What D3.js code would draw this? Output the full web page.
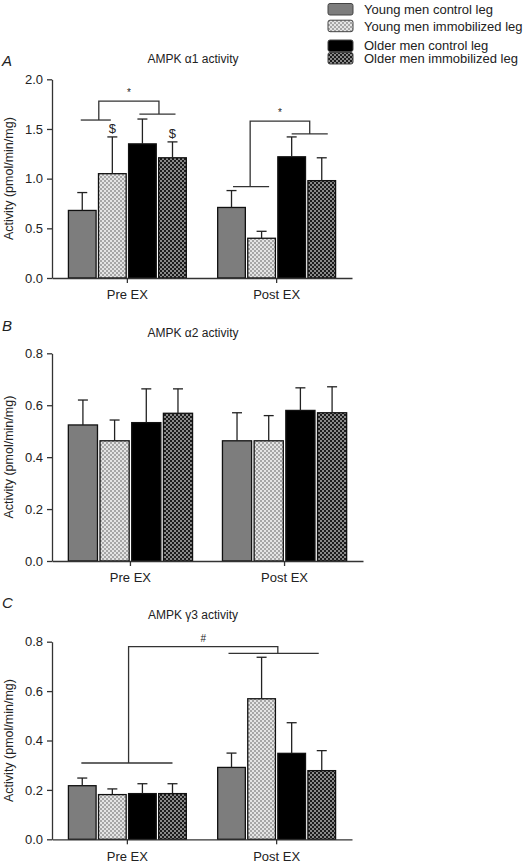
<!DOCTYPE html>
<html>
<head>
<meta charset="utf-8">
<script src="https://cdn.jsdelivr.net/npm/d3@7"></script>
<style>
  body { margin: 0; background: #fff; }
  svg { display: block; font-family: "Liberation Sans", Arial, sans-serif; }
</style>
</head>
<body>
<svg id="chart" width="525" height="863"></svg>
<script>
// ---------------- DATA ----------------
const categories = ["Pre EX", "Post EX"];
const seriesNames = ["Young men control leg", "Young men immobilized leg", "Older men control leg", "Older men immobilized leg"];

const alpha1Ticks = [0, 0.5, 1.0, 1.5, 2.0];
const alpha1Mean = [[0.68, 1.05, 1.35, 1.21], [0.71, 0.40, 1.22, 0.98]];
const alpha1Err  = [[0.18, 0.37, 0.25, 0.16], [0.17, 0.07, 0.20, 0.23]];

const alpha2Ticks = [0, 0.2, 0.4, 0.6, 0.8];
const alpha2Mean = [[0.524, 0.463, 0.533, 0.569], [0.463, 0.463, 0.580, 0.571]];
const alpha2Err  = [[0.096, 0.080, 0.130, 0.094], [0.108, 0.097, 0.087, 0.100]];

const gamma3Ticks = [0, 0.2, 0.4, 0.6, 0.8];
const gamma3Mean = [[0.217, 0.181, 0.185, 0.185], [0.291, 0.569, 0.348, 0.278]];
const gamma3Err  = [[0.031, 0.023, 0.040, 0.040], [0.058, 0.168, 0.124, 0.081]];

// significance annotations (positions in bar-index units within a category, values in data units)
const alpha1Lines = [
  {cat: "Pre EX", from: -0.05, to: 0.95, y: 1.59},
  {cat: "Pre EX", from: 1.9, to: 3.1, y: 1.65},
  {cat: "Post EX", from: 0.05, to: 1.25, y: 0.92},
  {cat: "Post EX", from: 2.0, to: 3.2, y: 1.45}
];
const alpha1Brackets = [
  {cat1: "Pre EX", pos1: 0.55, y1: 1.59, cat2: "Pre EX", pos2: 2.55, y2: 1.65, top: 1.78, label: "*"},
  {cat1: "Post EX", pos1: 0.62, y1: 0.92, cat2: "Post EX", pos2: 2.6, y2: 1.45, top: 1.58, label: "*"}
];
const alpha1Marks = [{cat: "Pre EX", bar: 1, label: "$"}, {cat: "Pre EX", bar: 3, label: "$"}];

const gamma3Lines = [
  {cat: "Pre EX", from: -0.03, to: 3.0, y: 0.309},
  {cat: "Post EX", from: -0.1, to: 2.9, y: 0.753}
];
const gamma3Brackets = [
  {cat1: "Pre EX", pos1: 1.54, y1: 0.309, cat2: "Post EX", pos2: 1.54, y2: 0.753, top: 0.78, label: "#"}
];

// ---------------- DRAW ----------------
const svg = d3.select("#chart");
const defs = svg.append("defs");

function checker(id, base, sq) {
  const p = defs.append("pattern").attr("id", id).attr("width", 4).attr("height", 4)
    .attr("patternUnits", "userSpaceOnUse");
  p.append("rect").attr("width", 4).attr("height", 4).attr("fill", base);
  p.append("rect").attr("width", 2).attr("height", 2).attr("fill", sq);
  p.append("rect").attr("x", 2).attr("y", 2).attr("width", 2).attr("height", 2).attr("fill", sq);
}
checker("patLight", "#e4e4e4", "#a6a6a6");
checker("patDark", "#1c1c1c", "#8a8a8a");

const fills = ["#7d7d7d", "url(#patLight)", "#000000", "url(#patDark)"];
const seriesIdx = d3.range(seriesNames.length);

// legend
const legend = svg.append("g");
const legendRows = [{y: 3.5, tb: 14.3}, {y: 20.2, tb: 31}, {y: 40, tb: 50}, {y: 52.5, tb: 63.3}];
seriesNames.forEach((name, i) => {
  legend.append("rect").attr("x", 328).attr("y", legendRows[i].y).attr("width", 25).attr("height", 11.5)
    .attr("rx", 2).attr("fill", fills[i]).attr("stroke", "#444").attr("stroke-width", 1);
  legend.append("text").attr("x", 364).attr("y", legendRows[i].tb).attr("font-size", 13)
    .attr("fill", "#222").text(name);
});

function panel(cfg) {
  const g = svg.append("g");
  const x = d3.scaleBand().domain(categories).range(cfg.xRange)
    .paddingInner(cfg.pIn).paddingOuter(cfg.pOut);
  const xi = d3.scaleBand().domain(seriesIdx).range([0, x.bandwidth()]).paddingInner(0.08).paddingOuter(0);
  const y = d3.scaleLinear().domain([0, d3.max(cfg.ticks)]).range([cfg.yBottom, cfg.yTop]);
  const bw = xi.bandwidth();
  const xAt = (cat, pos) => x(cat) + xi(0) + pos * xi.step() + bw / 2;

  // letter + title
  g.append("text").attr("x", 2).attr("y", cfg.letterY).attr("font-size", 15).attr("font-style", "italic")
    .attr("fill", "#222").text(cfg.letter);
  g.append("text").attr("x", 193).attr("y", cfg.titleY).attr("text-anchor", "middle").attr("font-size", 12)
    .attr("fill", "#222").text(cfg.title);

  // bars
  categories.forEach((cat, ci) => {
    const gc = g.append("g");
    gc.selectAll("rect").data(seriesIdx).join("rect")
      .attr("x", i => x(cat) + xi(i)).attr("width", bw)
      .attr("y", i => y(cfg.mean[ci][i])).attr("height", i => y(0) - y(cfg.mean[ci][i]))
      .attr("fill", i => fills[i]).attr("stroke", "#111").attr("stroke-width", 1.3);
    // error bars
    gc.selectAll("line.eb").data(seriesIdx).join("line").attr("class", "eb")
      .attr("x1", i => x(cat) + xi(i) + bw / 2).attr("x2", i => x(cat) + xi(i) + bw / 2)
      .attr("y1", i => y(cfg.mean[ci][i])).attr("y2", i => y(cfg.mean[ci][i] + cfg.err[ci][i]))
      .attr("stroke", "#222").attr("stroke-width", 1.3);
    gc.selectAll("line.cap").data(seriesIdx).join("line").attr("class", "cap")
      .attr("x1", i => x(cat) + xi(i) + bw / 2 - 5).attr("x2", i => x(cat) + xi(i) + bw / 2 + 5)
      .attr("y1", i => y(cfg.mean[ci][i] + cfg.err[ci][i])).attr("y2", i => y(cfg.mean[ci][i] + cfg.err[ci][i]))
      .attr("stroke", "#222").attr("stroke-width", 1.3);
  });

  // axes
  const yAxis = d3.axisLeft(y).tickValues(cfg.ticks).tickFormat(d3.format(".1f"))
    .tickSize(5).tickPadding(4).tickSizeOuter(0);
  const ya = g.append("g").attr("transform", `translate(${cfg.xRange[0]},0)`).call(yAxis);
  const xAxis = d3.axisBottom(x).tickSize(5).tickPadding(7).tickSizeOuter(0);
  const xa = g.append("g").attr("transform", `translate(0,${cfg.yBottom})`).call(xAxis);
  [ya, xa].forEach(a => {
    a.selectAll("path, line").attr("stroke", "#333").attr("stroke-width", 1.3);
    a.selectAll("text").attr("font-size", 13).attr("fill", "#222")
      .attr("font-family", "'Liberation Sans', Arial, sans-serif");
  });

  // y label
  g.append("text").attr("transform", `translate(13,${(cfg.yTop + cfg.yBottom) / 2}) rotate(-90)`)
    .attr("text-anchor", "middle").attr("font-size", 12.5).attr("fill", "#222")
    .text("Activity (pmol/min/mg)");

  // annotations
  const ann = g.append("g").attr("stroke", "#333").attr("stroke-width", 1.3).attr("fill", "none");
  (cfg.lines || []).forEach(l => {
    ann.append("line").attr("x1", xAt(l.cat, l.from)).attr("x2", xAt(l.cat, l.to))
      .attr("y1", y(l.y)).attr("y2", y(l.y));
  });
  (cfg.brackets || []).forEach(b => {
    const x1 = xAt(b.cat1, b.pos1), x2 = xAt(b.cat2, b.pos2);
    ann.append("path").attr("d", `M${x1},${y(b.y1)}V${y(b.top)}H${x2}V${y(b.y2)}`);
    g.append("text").attr("x", (x1 + x2) / 2).attr("y", y(b.top) - 5).attr("text-anchor", "middle")
      .attr("font-size", 10).attr("fill", "#222").text(b.label);
  });
  (cfg.marks || []).forEach(m => {
    const ci = categories.indexOf(m.cat);
    g.append("text").attr("x", xAt(m.cat, m.bar)).attr("y", y(cfg.mean[ci][m.bar] + cfg.err[ci][m.bar]) - 4)
      .attr("text-anchor", "middle").attr("font-size", 13).attr("fill", "#222").text(m.label);
  });
}

panel({letter: "A", letterY: 66, title: "AMPK \u03b11 activity", titleY: 63,
  ticks: alpha1Ticks, mean: alpha1Mean, err: alpha1Err,
  xRange: [52, 352], pIn: 0.21, pOut: 0.11, yTop: 79.3, yBottom: 278,
  lines: alpha1Lines, brackets: alpha1Brackets, marks: alpha1Marks});

panel({letter: "B", letterY: 331, title: "AMPK \u03b12 activity", titleY: 337,
  ticks: alpha2Ticks, mean: alpha2Mean, err: alpha2Err,
  xRange: [52, 363], pIn: 0.194, pOut: 0.106, yTop: 353.3, yBottom: 561});

panel({letter: "C", letterY: 608, title: "AMPK \u03b33 activity", titleY: 619,
  ticks: gamma3Ticks, mean: gamma3Mean, err: gamma3Err,
  xRange: [52, 352], pIn: 0.21, pOut: 0.11, yTop: 641.7, yBottom: 839.3,
  lines: gamma3Lines, brackets: gamma3Brackets});
</script>
</body>
</html>
